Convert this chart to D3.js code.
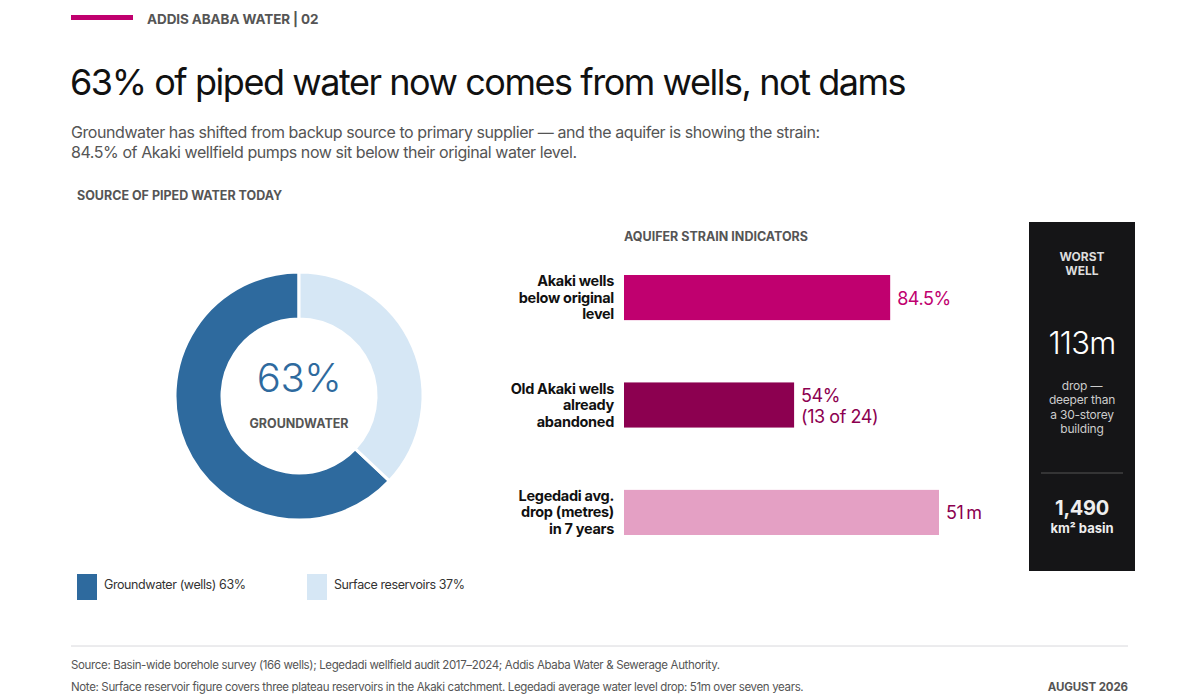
<!DOCTYPE html>
<html lang="en">
<head>
<meta charset="utf-8">
<title>Addis Ababa water 02</title>
<script src="https://d3js.org/d3.v7.min.js"></script>
<style>
  html, body { margin: 0; padding: 0; background: #fff; }
  svg { display: block; font-family: Inter, "Noto Sans", sans-serif; }
</style>
</head>
<body>
<script>
// data
var sourceNames = ["Groundwater (wells)", "Surface reservoirs"];
var sourceShares = [63, 37];
var sourceColors = ["#2e6a9e", "#d6e7f5"];

var strainLabels = [
  ["Akaki wells", "below original", "level"],
  ["Old Akaki wells", "already", "abandoned"],
  ["Legedadi avg.", "drop (metres)", "in 7 years"]
];
var strainValues = [84.5, 54, 51];
var strainUnits = ["%", "%", "m"];
var strainValueText = [["84.5%"], ["54%", "(13 of 24)"], ["51\u2009m"]];
var strainColors = ["#c0006f", "#8c0050", "#e4a0c4"];
var strainTextColors = ["#c0006f", "#8c0050", "#8c0050"];

var worstWellDrop = "113m";
var worstWellNote = ["drop \u2014", "deeper than", "a 30-storey", "building"];
var basinArea = "1,490";

var W = 1200, H = 700;
var svg = d3.select("body").append("svg").attr("width", W).attr("height", H);

// header
svg.append("rect").attr("x", 71).attr("y", 15).attr("width", 62).attr("height", 5).attr("fill", "#c0006f");
svg.append("text").attr("x", 147).attr("y", 24).attr("font-size", 13.5).attr("font-weight", 700)
  .attr("letter-spacing", -0.1).attr("fill", "#555").text("ADDIS ABABA WATER | 02");

svg.append("text").attr("x", 70).attr("y", 95).attr("font-size", 36).attr("fill", "#111")
  .attr("letter-spacing", -1.45).text("63% of piped water now comes from wells, not dams");

var sub = ["Groundwater has shifted from backup source to primary supplier \u2014 and the aquifer is showing the strain:",
           "84.5% of Akaki wellfield pumps now sit below their original water level."];
svg.selectAll(".sub").data(sub).enter().append("text")
  .attr("x", 71).attr("y", function(d, i){ return 138 + i * 20; })
  .attr("font-size", 16).attr("letter-spacing", -0.43).attr("fill", "#555").text(function(d){ return d; });

svg.append("text").attr("x", 77).attr("y", 200).attr("font-size", 12.5).attr("font-weight", 700)
  .attr("fill", "#555").text("SOURCE OF PIPED WATER TODAY");

// donut
var cx = 299, cy = 396;
var pie = d3.pie().sort(null).startAngle(0).endAngle(-2 * Math.PI);
var arc = d3.arc().innerRadius(77).outerRadius(124);
var g = svg.append("g").attr("transform", "translate(" + cx + "," + cy + ")");
g.selectAll("path").data(pie(sourceShares)).enter().append("path")
  .attr("d", arc)
  .attr("fill", function(d, i){ return sourceColors[i]; })
  .attr("stroke", "#fff").attr("stroke-width", 3);

g.append("text").attr("y", -4).attr("text-anchor", "middle").attr("font-size", 40).attr("font-weight", 300)
  .attr("letter-spacing", -0.5).attr("fill", sourceColors[0]).text(sourceShares[0] + "%");
g.append("text").attr("y", 32).attr("text-anchor", "middle").attr("font-size", 12.5).attr("font-weight", 700)
  .attr("fill", "#555").text("GROUNDWATER");

// legend
var legX = [77, 307];
sourceNames.forEach(function(n, i){
  svg.append("rect").attr("x", legX[i]).attr("y", 574).attr("width", 20).attr("height", 26)
    .attr("fill", sourceColors[i]);
  svg.append("text").attr("x", legX[i] + 27).attr("y", 589).attr("font-size", 12.5).attr("letter-spacing", -0.4)
    .attr("fill", "#333").text(n + " " + sourceShares[i] + "%");
});

// strain bars
svg.append("text").attr("x", 624).attr("y", 241).attr("font-size", 12.5).attr("font-weight", 700)
  .attr("fill", "#555").text("AQUIFER STRAIN INDICATORS");

var barX0 = 624, barLen = 315;
var xPct = d3.scaleLinear().domain([0, 100]).range([0, barLen]);
var xMetres = d3.scaleLinear().domain([0, 51]).range([0, barLen]);
var y = d3.scaleBand().domain(d3.range(strainValues.length)).range([275, 535]).paddingInner(0.58).paddingOuter(0);

var bars = svg.selectAll(".bar").data(strainValues).enter().append("g");
bars.append("rect")
  .attr("x", barX0)
  .attr("y", function(d, i){ return y(i); })
  .attr("height", y.bandwidth())
  .attr("width", function(d, i){ return strainUnits[i] === "m" ? xMetres(d) : xPct(d); })
  .attr("fill", function(d, i){ return strainColors[i]; });

bars.each(function(d, i){
  var gg = d3.select(this);
  var mid = y(i) + y.bandwidth() / 2;
  strainLabels[i].forEach(function(line, j){
    gg.append("text").attr("x", 614).attr("y", mid + (j - 1) * 16.5 + 5)
      .attr("text-anchor", "end").attr("font-size", 14.5).attr("font-weight", 700)
      .attr("fill", "#111").attr("letter-spacing", -0.3).text(line);
  });
  var w = strainUnits[i] === "m" ? xMetres(d) : xPct(d);
  var vt = strainValueText[i];
  vt.forEach(function(line, j){
    gg.append("text").attr("x", barX0 + w + 7)
      .attr("y", mid + 7 + (j - (vt.length - 1) / 2) * 21)
      .attr("font-size", 18).attr("letter-spacing", -0.45).attr("fill", strainTextColors[i]).text(line);
  });
});

// dark panel
var px = 1029, pw = 106, pmid = px + pw / 2;
svg.append("rect").attr("x", px).attr("y", 222).attr("width", pw).attr("height", 349).attr("fill", "#151517");
["WORST", "WELL"].forEach(function(t, i){
  svg.append("text").attr("x", pmid).attr("y", 261 + i * 13.5).attr("text-anchor", "middle")
    .attr("font-size", 12).attr("font-weight", 700).attr("fill", "#ddd").text(t);
});
svg.append("text").attr("x", pmid).attr("y", 354).attr("text-anchor", "middle").attr("font-size", 31)
  .attr("font-weight", 300).attr("fill", "#fff").attr("letter-spacing", -0.8).text(worstWellDrop);
worstWellNote.forEach(function(t, i){
  svg.append("text").attr("x", pmid).attr("y", 390 + i * 14.3).attr("text-anchor", "middle")
    .attr("font-size", 12).attr("letter-spacing", -0.2).attr("fill", "#ccc").text(t);
});
svg.append("line").attr("x1", 1041).attr("x2", 1123).attr("y1", 473).attr("y2", 473)
  .attr("stroke", "#555").attr("stroke-width", 1);
svg.append("text").attr("x", pmid).attr("y", 515).attr("text-anchor", "middle").attr("font-size", 20)
  .attr("font-weight", 700).attr("letter-spacing", -0.3).attr("fill", "#eee").text(basinArea);
svg.append("text").attr("x", pmid).attr("y", 533).attr("text-anchor", "middle").attr("font-size", 13)
  .attr("font-weight", 700).attr("fill", "#eee").text("km\u00b2 basin");

// footer
svg.append("line").attr("x1", 71).attr("x2", 1128).attr("y1", 646).attr("y2", 646)
  .attr("stroke", "#d8d8dc").attr("stroke-width", 1);
svg.append("text").attr("x", 71).attr("y", 669).attr("font-size", 11.5).attr("letter-spacing", -0.35).attr("fill", "#555")
  .text("Source: Basin-wide borehole survey (166 wells); Legedadi wellfield audit 2017\u20132024; Addis Ababa Water & Sewerage Authority.");
svg.append("text").attr("x", 71).attr("y", 691).attr("font-size", 11.5).attr("letter-spacing", -0.35).attr("fill", "#555")
  .text("Note: Surface reservoir figure covers three plateau reservoirs in the Akaki catchment. Legedadi average water level drop: 51m over seven years.");
svg.append("text").attr("x", 1128).attr("y", 691).attr("text-anchor", "end").attr("font-size", 11.5)
  .attr("font-weight", 700).attr("letter-spacing", -0.1).attr("fill", "#555").text("AUGUST 2026");
</script>
</body>
</html>
